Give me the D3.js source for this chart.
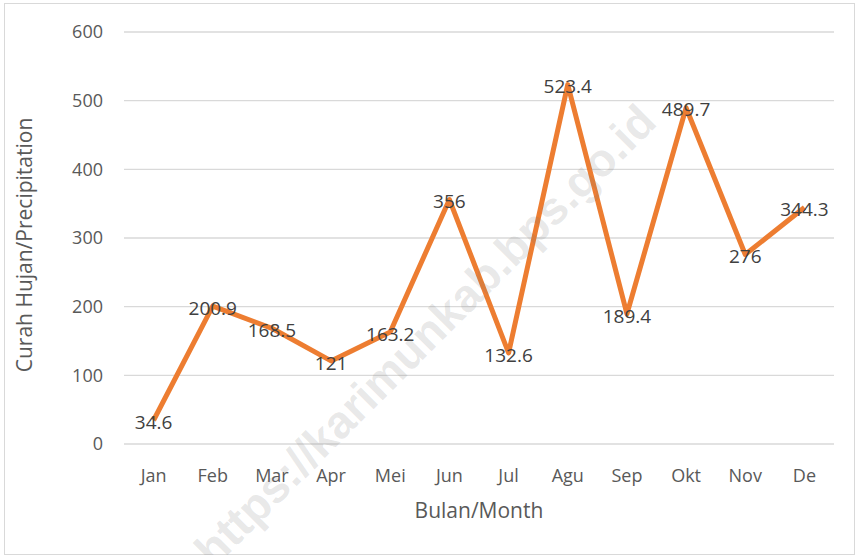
<!DOCTYPE html>
<html>
<head>
<meta charset="utf-8">
<script src="https://cdn.jsdelivr.net/npm/d3@7"></script>
<style>
  body { margin: 0; background: #fff; }
  svg text { font-family: "Open Sans", "Noto Sans", sans-serif; }
</style>
</head>
<body>
<svg id="chart" width="858" height="555"></svg>
<script>
/* Data */
var months = ['Jan', 'Feb', 'Mar', 'Apr', 'Mei', 'Jun', 'Jul', 'Agu', 'Sep', 'Okt', 'Nov', 'De'];
var rainfall = [34.6, 200.9, 168.5, 121, 163.2, 356, 132.6, 523.4, 189.4, 489.7, 276, 344.3];
var yTicks = [0, 100, 200, 300, 400, 500, 600];

var svg = d3.select('#chart');
var margin = { left: 124, right: 24, top: 32, bottom: 111 };
var width = 858, height = 555;

// chart frame
svg.append('rect')
  .attr('x', 4.5).attr('y', 3.5)
  .attr('width', width - 8).attr('height', height - 4)
  .attr('fill', '#fff').attr('stroke', '#d9d9d9');

var x = d3.scaleBand()
  .domain(months)
  .range([margin.left, width - margin.right]);

var y = d3.scaleLinear()
  .domain([0, 600])
  .range([height - margin.bottom, margin.top]);

// gridlines
svg.append('g')
  .selectAll('line')
  .data(yTicks)
  .join('line')
  .attr('x1', margin.left).attr('x2', width - margin.right)
  .attr('y1', function(d) { return y(d); })
  .attr('y2', function(d) { return y(d); })
  .attr('stroke', '#d9d9d9').attr('stroke-width', 1.3);

// y tick labels
svg.append('g')
  .selectAll('text')
  .data(yTicks)
  .join('text')
  .attr('x', 103)
  .attr('y', function(d) { return y(d); })
  .attr('dy', '0.35em')
  .attr('text-anchor', 'end')
  .attr('font-size', 18)
  .attr('fill', '#595959')
  .text(function(d) { return d; });

// x tick labels
svg.append('g')
  .selectAll('text')
  .data(months)
  .join('text')
  .attr('x', function(d) { return x(d) + x.bandwidth() / 2; })
  .attr('y', 476)
  .attr('dy', '0.35em')
  .attr('text-anchor', 'middle')
  .attr('font-size', 18)
  .attr('fill', '#595959')
  .text(function(d) { return d; });

// axis titles
svg.append('text')
  .attr('x', 479).attr('y', 511)
  .attr('dy', '0.35em')
  .attr('text-anchor', 'middle')
  .attr('font-size', 21)
  .attr('fill', '#595959')
  .text('Bulan/Month');

svg.append('text')
  .attr('transform', 'translate(25,245) rotate(-90)')
  .attr('dy', '0.35em')
  .attr('text-anchor', 'middle')
  .attr('font-size', 21)
  .attr('fill', '#595959')
  .text('Curah Hujan/Precipitation');

// line
var line = d3.line()
  .x(function(d, i) { return x(months[i]) + x.bandwidth() / 2; })
  .y(function(d) { return y(d); });

svg.append('path')
  .datum(rainfall)
  .attr('d', line)
  .attr('fill', 'none')
  .attr('stroke', '#ed7d31')
  .attr('stroke-width', 5)
  .attr('stroke-linejoin', 'round');

// data labels
svg.append('g')
  .selectAll('text')
  .data(rainfall)
  .join('text')
  .attr('x', function(d, i) { return x(months[i]) + x.bandwidth() / 2; })
  .attr('y', function(d) { return y(d) + 2; })
  .attr('dy', '0.35em')
  .attr('text-anchor', 'middle')
  .attr('font-size', 19)
  .attr('fill', '#404040')
  .text(function(d) { return d; });

// watermark
svg.append('text')
  .attr('transform', 'translate(425,335) rotate(-45)')
  .attr('text-anchor', 'middle')
  .attr('dy', '0.35em')
  .attr('font-size', 46)
  .attr('font-weight', 'bold')
  .style('font-family', '"Liberation Sans", Arial, sans-serif')
  .attr('fill', 'rgba(120,120,120,0.18)')
  .text('https://karimunkab.bps.go.id');
</script>
</body>
</html>
